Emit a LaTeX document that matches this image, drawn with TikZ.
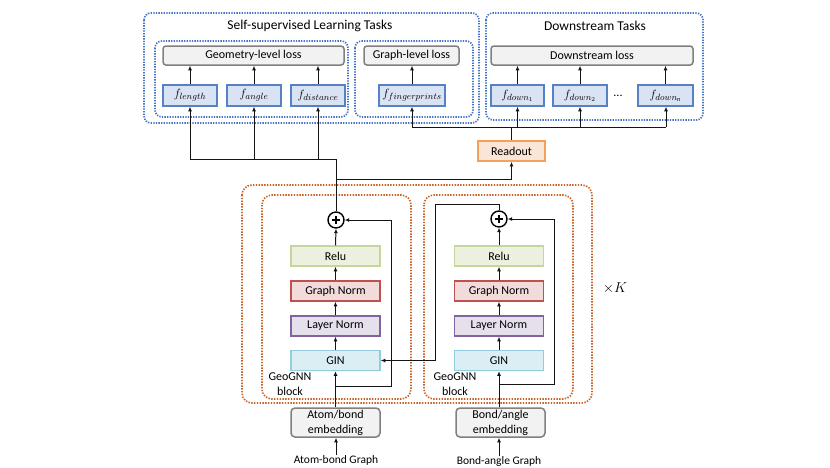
\documentclass[tikz,border=0pt]{standalone}
\usepackage{fontspec}
\setmainfont{Carlito}
\usetikzlibrary{arrows.meta}
\definecolor{dotblue}{RGB}{68,114,196}
\definecolor{dotorange}{RGB}{200,100,40}
\definecolor{fblue}{RGB}{218,227,243}
\definecolor{fbluedraw}{RGB}{84,130,197}
\definecolor{lossfill}{RGB}{242,242,242}
\definecolor{lossdraw}{RGB}{128,128,128}
\definecolor{rofill}{RGB}{251,229,214}
\definecolor{rodraw}{RGB}{244,160,90}
\definecolor{relufill}{RGB}{235,241,222}
\definecolor{reludraw}{RGB}{195,214,155}
\definecolor{gnfill}{RGB}{242,220,219}
\definecolor{gndraw}{RGB}{192,80,77}
\definecolor{lnfill}{RGB}{229,224,236}
\definecolor{lndraw}{RGB}{128,100,162}
\definecolor{ginfill}{RGB}{218,238,243}
\definecolor{gindraw}{RGB}{146,205,220}
\definecolor{linec}{RGB}{20,20,20}
\tikzset{
  bluegroup/.style={draw=dotblue, line width=1.7pt, dash pattern=on 1.3pt off 1.3pt, rounded corners=7pt},
  orangegroup/.style={draw=dotorange, line width=1.7pt, dash pattern=on 1.4pt off 1.4pt, rounded corners=10pt},
  txt/.style={font=\fontsize{12}{14}\selectfont, inner sep=0pt},
  fbox/.style={draw=fbluedraw, fill=fblue, line width=1.5pt, minimum height=21, inner sep=0pt, font=\fontsize{12.5}{14}\selectfont},
  lossbox/.style={draw=lossdraw, fill=lossfill, line width=1.5pt, rounded corners=3pt, minimum height=19, inner sep=0pt, font=\fontsize{12}{14}\selectfont},
  layerbox/.style={line width=1.5pt, minimum width=89, minimum height=20, inner sep=0pt, font=\fontsize{12}{14}\selectfont},
  embbox/.style={draw=lossdraw, fill=lossfill, line width=1.5pt, rounded corners=4pt, minimum width=89, minimum height=29, inner sep=0pt, align=center, font=\fontsize{12}{15}\selectfont},
  plusc/.style={circle, draw=black, line width=1.4pt, minimum size=16, inner sep=0pt},
  conn/.style={draw=linec, line width=1pt},
  arr/.style={conn, -{Latex[length=4.5pt,width=4pt]}}
}
\begin{document}
\begin{tikzpicture}[x=1pt,y=-1pt]
\useasboundingbox (0,0) rectangle (830,467);
\fill[white] (0,0) rectangle (830,467);

% group boxes
\draw[bluegroup] (144,13) rectangle (479,123);
\draw[bluegroup] (155,41) rectangle (348,117);
\draw[bluegroup] (355,41) rectangle (473,117);
\draw[bluegroup] (486,13) rectangle (703,120);
\node[txt, font=\fontsize{13.5}{16}\selectfont] (ssltitle) at (310,26) {Self-supervised Learning Tasks};
\node[txt, font=\fontsize{13.5}{16}\selectfont] (dstitle) at (595,26) {Downstream Tasks};

\draw[orangegroup] (242,185) rectangle (592,403);
\draw[orangegroup] (262,195) rectangle (411,399);
\draw[orangegroup] (424,195) rectangle (573,399);

% loss boxes
\node[lossbox, minimum width=181] (geoloss) at (253.5,55.5) {Geometry-level loss};
\node[lossbox, minimum width=95] (graphloss) at (411.5,55.5) {Graph-level loss};
\node[lossbox, minimum width=202] (downloss) at (592,55.5) {Downstream loss};

% f boxes
\node[fbox, minimum width=54] (flen) at (190,95.5) {$f_{length}$};
\node[fbox, minimum width=54] (fang) at (254,95.5) {$f_{angle}$};
\node[fbox, minimum width=54] (fdist) at (318,95.5) {$f_{distance}$};
\node[fbox, minimum width=66] (ffp) at (412,95.5) {$f_{fingerprints}$};
\node[fbox, minimum width=53] (fd1) at (517.5,95.5) {$f_{down_1}$};
\node[fbox, minimum width=54] (fd2) at (580,95.5) {$f_{down_2}$};
\node[txt] (dots) at (618,96) {...};
\node[fbox, minimum width=55] (fdn) at (665.5,95.5) {$f_{down_{\mathrm{n}}}$};

\foreach \f/\l in {flen/geoloss, fang/geoloss, fdist/geoloss, ffp/graphloss, fd1/downloss, fd2/downloss, fdn/downloss}{
  \draw[arr] (\f.north) -- (\f.north |- \l.south);
}

% readout
\node[draw=rodraw, fill=rofill, line width=1.7pt, minimum width=67, minimum height=20, inner sep=0pt, font=\fontsize{12}{14}\selectfont] (readout) at (511.5,151) {Readout};

% left block
\node[plusc] (cL) at (336,220) {};
\draw[line width=1.3pt] ([xshift=-4pt]cL.center) -- ([xshift=4pt]cL.center) ([yshift=-4pt]cL.center) -- ([yshift=4pt]cL.center);
\node[layerbox, draw=reludraw, fill=relufill] (reluL) at (335.5,256) {Relu};
\node[layerbox, draw=gndraw, fill=gnfill] (gnL) at (335.5,291) {Graph Norm};
\node[layerbox, draw=lndraw, fill=lnfill] (lnL) at (335.5,326) {Layer Norm};
\node[layerbox, draw=gindraw, fill=ginfill] (ginL) at (335.5,360.5) {GIN};
\node[txt, align=center, font=\fontsize{12}{15}\selectfont] (blkL) at (290,384.5) {GeoGNN\\block};

% right block
\node[plusc] (cR) at (499,219) {};
\draw[line width=1.3pt] ([xshift=-4pt]cR.center) -- ([xshift=4pt]cR.center) ([yshift=-4pt]cR.center) -- ([yshift=4pt]cR.center);
\node[layerbox, draw=reludraw, fill=relufill] (reluR) at (499,256) {Relu};
\node[layerbox, draw=gndraw, fill=gnfill] (gnR) at (499,291) {Graph Norm};
\node[layerbox, draw=lndraw, fill=lnfill] (lnR) at (499,326) {Layer Norm};
\node[layerbox, draw=gindraw, fill=ginfill] (ginR) at (499,360.5) {GIN};
\node[txt, align=center, font=\fontsize{12}{15}\selectfont] (blkR) at (455,384.5) {GeoGNN\\block};

\node[txt] (timesK) at (615,288) {\fontsize{15}{17}\selectfont$\times K$};

% embeddings
\node[embbox] (embL) at (335.5,422.5) {Atom/bond\\embedding};
\node[embbox] (embR) at (500.5,422.5) {Bond/angle\\embedding};
\node[txt, font=\fontsize{11.5}{14}\selectfont] (gL) at (336,460) {Atom-bond Graph};
\node[txt, font=\fontsize{11.5}{14}\selectfont] (gR) at (499,461) {Bond-angle Graph};
\draw[arr] (gL.north) -- (gL.north |- embL.south);
\draw[arr] (gR.north) -- (gR.north |- embR.south);

% inner flows
\foreach \a/\b in {ginL/lnL, lnL/gnL, gnL/reluL, ginR/lnR, lnR/gnR, gnR/reluR}{
  \draw[arr] (\a.north) -- (\b.south);
}
\draw[arr] (reluL.north) -- (cL.south);
\draw[arr] (reluR.north) -- (cR.south);
\draw[arr] (embL.north -| ginL.south) -- (ginL.south);
\draw[arr] (embR.north -| ginR.south) -- (ginR.south);

% skip connections
\coordinate (sL) at (336,386);
\coordinate (sLc) at (391,386);
\draw[arr] (sL) -- (sLc) |- (cL.east);
\coordinate (sR) at (499,384);
\coordinate (sRc) at (554,384);
\draw[arr] (sR) -- (sRc) |- (cR.east);

% right block output into left GIN
\coordinate (ro) at (435,204);
\draw[arr] (cR.north) |- (ro) |- (ginL.east);

% left block output to heads
\coordinate (busL) at (190,159);
\coordinate (topL) at (336,159);
\draw[conn] (cL.north) -- (topL) -- (busL);
\draw[arr] (busL) -- (flen.south);
\draw[arr] (fang.south |- busL) -- (fang.south);
\draw[arr] (fdist.south |- busL) -- (fdist.south);
\coordinate (rj) at (336,179);
\draw[arr] (rj) -| (readout.south);

% readout to heads
\coordinate (busT) at (412,127);
\coordinate (busTe) at (666,127);
\draw[conn] (busT) -- (busTe);
\draw[conn] (readout.north) -- (readout.north |- busT);
\draw[arr] (busT) -- (ffp.south);
\draw[arr] (fd1.south |- busT) -- (fd1.south);
\draw[arr] (fd2.south |- busT) -- (fd2.south);
\draw[arr] (busTe) -- (busTe |- fdn.south);
\end{tikzpicture}
\end{document}
